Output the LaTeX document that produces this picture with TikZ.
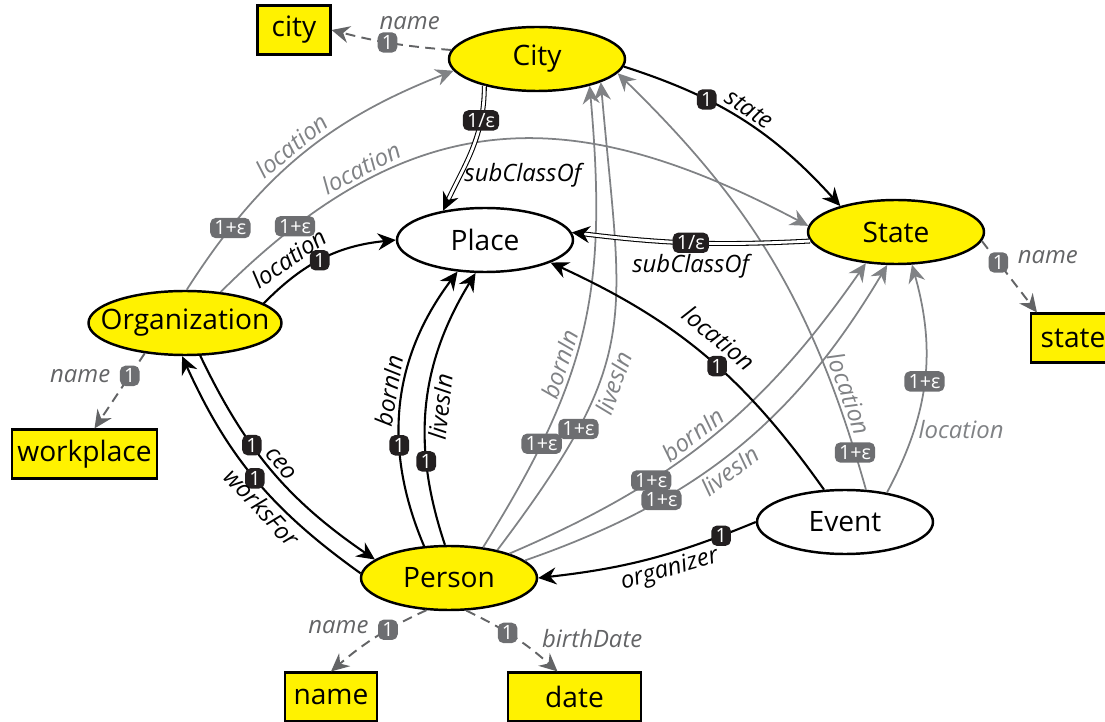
\documentclass[tikz,border=0pt]{standalone}
\usepackage{fontspec}
\setmainfont{Open Sans}
\usetikzlibrary{shapes.geometric,arrows.meta}

\definecolor{hiyellow}{RGB}{255,242,0}
\definecolor{edgegray}{RGB}{128,130,133}
\definecolor{attrgray}{RGB}{99,100,102}
\definecolor{badgegray}{RGB}{109,110,113}
\definecolor{badgeblack}{RGB}{35,31,32}

\begin{document}
\begin{tikzpicture}[
	>={Stealth[length=0.18cm,width=0.17cm,inset=0.06cm]},
	cls/.style={ellipse, draw, line width=0.7pt, minimum width=1.76cm, minimum height=0.64cm, inner xsep=-0.3cm, inner ysep=0pt, font=\fontsize{8}{9}\selectfont},
	ycls/.style={cls, fill=hiyellow},
	lit/.style={rectangle, draw, line width=0.6pt, fill=hiyellow, minimum height=0.49cm, inner sep=0pt, font=\fontsize{8}{9}\selectfont},
	rel/.style={->, line width=0.6pt},
	grel/.style={->, draw=edgegray, line width=0.5pt},
	sub/.style={->, double, double distance=0.8pt, line width=0.3pt},
	attr/.style={->, draw=attrgray, line width=0.55pt, dash pattern=on 2.8pt off 1.8pt},
	lab/.style={font=\fontsize{6.8}{7}\selectfont\itshape, inner sep=1pt},
	glab/.style={lab, text=edgegray},
	alab/.style={lab, text=attrgray},
	card/.style={rectangle, rounded corners=1.6pt, fill=badgeblack, text=white, font=\fontsize{5.6}{5.6}\selectfont, inner xsep=1.2pt, inner ysep=0pt, minimum height=5.8pt, minimum width=4.8pt},
	gcard/.style={card, fill=badgegray}
	]
	\useasboundingbox (0,0) rectangle (11.05,-7.22);

	\node[ycls] (City) at (5.37,-0.59) {City};
	\node[cls] (Place) at (4.85,-2.40) {Place};
	\node[ycls] (State) at (8.96,-2.32) {State};
	\node[ycls, minimum width=1.93cm] (Org) at (1.85,-3.23) {Organization};
	\node[ycls] (Person) at (4.49,-5.78) {Person};
	\node[cls] (Event) at (8.45,-5.22) {Event};

	\node[lit, minimum width=0.73cm] (city) at (2.94,-0.30) {city};
	\node[lit, minimum width=0.84cm] (state) at (10.73,-3.38) {state};
	\node[lit, minimum width=1.45cm] (workplace) at (0.845,-4.54) {workplace};
	\node[lit, minimum width=0.92cm] (name) at (3.31,-6.97) {name};
	\node[lit, minimum width=1.33cm] (date) at (5.745,-6.97) {date};

	\draw[grel] (Org.87) to[bend left=18] node[pos=0.2, gcard] {1+ε} node[pos=0.5, glab, sloped, above] {location} (City.188);
	\draw[grel] (Org.41) .. controls (4.15,-0.98) and (5.76,-1.03) .. node[pos=0.13, gcard] {1+ε} node[pos=0.26, glab, sloped, above] {location} (State.176);
	\draw[grel] (Person.42) to[out=58, in=-85, looseness=1.1] node[pos=0.22, gcard] {1+ε} node[pos=0.4, glab, sloped, above] {bornIn} (City.-27);
	\draw[grel] (Person.30) to[out=53, in=-85, looseness=1.3] node[pos=0.25, gcard] {1+ε} node[pos=0.38, glab, sloped, below] {livesIn} (City.-20);
	\draw[grel] (Person.22) to[bend right=16] node[pos=0.33, gcard] {1+ε} node[pos=0.47, glab, sloped, above] {bornIn} (State.-134);
	\draw[grel] (Person.13) to[bend right=20] node[pos=0.3, gcard] {1+ε} node[pos=0.46, glab, sloped, below] {livesIn} (State.-105);
	\draw[grel] (Event.57) to[bend right=15] node[pos=0.07, gcard] {1+ε} node[pos=0.18, glab, sloped, above] {location} (City.-10);
	\draw[grel] (Event.35) to[bend right=22] node[pos=0.5, gcard] {1+ε} node[pos=0.28, glab, right] {location} (State.-64);

	\draw[sub] (City.207) to[out=-90, in=65] node[pos=0.25, card] {1/ε} node[pos=0.72, lab, right] {subClassOf} (Place.145);
	\draw[sub] (State.186) to[bend left=5] node[pos=0.5, card] {1/ε} node[pos=0.5, lab, below=0.07cm] {subClassOf} (Place.5);

	\draw[rel] (City.-5) to[bend left=15] node[pos=0.33, card] {1} node[pos=0.5, lab, sloped, above] {state} (State.155);
	\draw[rel] (Org.14) to[bend left=20] node[pos=0.47, card] {1} node[pos=0.3, lab, sloped, above=0.04cm] {location} (Place.180);
	\draw[rel] (Org.-65) to[bend right=15] node[pos=0.37, card] {1} node[pos=0.5, lab, sloped, above] {ceo} (Person.166);
	\draw[rel] (Person.177) to[bend left=15] node[pos=0.5, card] {1} node[pos=0.4, lab, sloped, below] {worksFor} (Org.-95);
	\draw[rel] (Person.128) to[bend left=30] node[pos=0.35, card] {1} node[pos=0.54, lab, sloped, above] {bornIn} (Place.-131);
	\draw[rel] (Person.97) to[bend left=25] node[pos=0.29, card] {1} node[pos=0.5, lab, sloped, below] {livesIn} (Place.-106);
	\draw[rel] (Event.123) to[bend right=15] node[pos=0.45, card] {1} node[pos=0.5, lab, sloped, above=0.09cm] {location} (Place.-19);
	\draw[rel] (Event.180) to[bend left=8] node[pos=0.15, card] {1} node[pos=0.42, lab, sloped, below] {organizer} (Person.0);

	\draw[attr] (City.174) to[bend left=5] node[pos=0.53, gcard] {1} node[pos=0.33, alab, above=0.12cm] {name} (city.east);
	\draw[attr] (State.-6) -- node[pos=0.3, gcard] {1} node[pos=0.3, alab, right=0.15cm, yshift=0.05cm] {name} ([xshift=0.07cm]state.north west);
	\draw[attr] (Org.217) -- node[pos=0.3, gcard] {1} node[pos=0.3, alab, left=0.15cm] {name} ([xshift=0.1cm]workplace.north);
	\draw[attr] (Person.235) to[bend right=8] node[pos=0.37, gcard] {1} node[pos=0.37, alab, left=0.15cm, yshift=0.03cm] {name} (name.north);
	\draw[attr] (Person.-62) to[bend left=8] node[pos=0.42, gcard] {1} node[pos=0.42, alab, right=0.3cm, yshift=-0.06cm] {birthDate} ([xshift=-0.17cm]date.north);
\end{tikzpicture}
\end{document}
